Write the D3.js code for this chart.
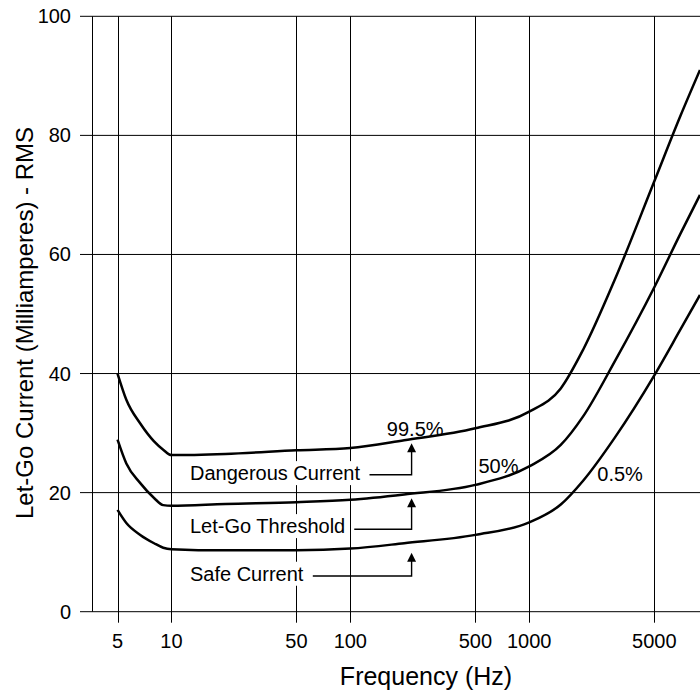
<!DOCTYPE html>
<html>
<head>
<meta charset="utf-8">
<script src="https://cdn.jsdelivr.net/npm/d3@7"></script>
<style>
  body { margin: 0; background: #fff; }
  svg { display: block; font-family: "Liberation Sans", Arial, Helvetica, sans-serif; }
</style>
</head>
<body>
<svg id="chart" width="700" height="690"></svg>
<script>
// frequencies (Hz) shared by the three curves
const freqs = [5, 5.6, 6.7, 8, 9, 10, 20, 50, 100, 200, 500, 1000, 1500, 2000, 3000, 5000, 7000, 9000];
// let-go current (mA rms) per percentile
const dangerous = [40, 35.6, 31.6, 28.6, 27.2, 26.3, 26.5, 27.1, 27.5, 28.8, 30.8, 33.6, 37.5, 44, 55.7, 72.3, 83.3, 91];
const threshold = [28.9, 24.9, 21.6, 19.1, 17.9, 17.8, 18.1, 18.4, 18.8, 19.7, 21.3, 24.4, 28.0, 32.8, 42.0, 54.5, 63.5, 70];
const safe = [17.1, 14.9, 12.9, 11.5, 10.75, 10.5, 10.3, 10.3, 10.6, 11.5, 12.9, 15.0, 18.0, 22.0, 29.2, 39.7, 47.4, 53.2];

const xTicks = [5, 10, 50, 100, 500, 1000, 5000];
const yTicks = [0, 20, 40, 60, 80, 100];

// percentile labels: [text, freq, value]
const pctLabels = [["99.5%", 160, 29.5], ["50%", 520, 23.3], ["0.5%", 2400, 21.9]];
// boxed labels with arrows: [text, label freq, label value, arrow freq, arrow tip value, arrow elbow value]
const notes = [
    ["Dangerous Current", 12.7, 22.1, 220, 28.3, 23.0],
    ["Let-Go Threshold", 12.7, 13.2, 220, 19.05, 13.85],
    ["Safe Current", 12.7, 5.2, 220, 9.9, 6.0]
];

const svg = d3.select('#chart');
const x = d3.scaleLog().domain([3.6, 9000]).range([92, 700]);
const y = d3.scaleLinear().domain([0, 100]).range([611.7, 16.3]);

// grid
const grid = svg.append('g');
grid.selectAll('line.h').data(yTicks).join('line')
    .attr('class', 'h')
    .attr('x1', 80).attr('x2', 700)
    .attr('y1', d => y(d)).attr('y2', d => y(d))
    .attr('stroke', '#000').attr('stroke-width', 1);
grid.selectAll('line.v').data(xTicks).join('line')
    .attr('class', 'v')
    .attr('x1', d => Math.round(x(d)) + 0.5).attr('x2', d => Math.round(x(d)) + 0.5)
    .attr('y1', y(100)).attr('y2', y(0) + 11)
    .attr('stroke', '#000').attr('stroke-width', 1);
grid.append('line')
    .attr('x1', 92.5).attr('x2', 92.5)
    .attr('y1', y(100)).attr('y2', y(0))
    .attr('stroke', '#000');

// tick labels
svg.append('g').selectAll('text').data(yTicks).join('text')
    .attr('x', 71).attr('y', d => y(d)).attr('dy', '0.35em')
    .attr('text-anchor', 'end').attr('font-size', 20)
    .text(d => d);
svg.append('g').selectAll('text').data(xTicks).join('text')
    .attr('x', d => x(d)).attr('y', 648)
    .attr('text-anchor', 'middle').attr('font-size', 20)
    .text(d => d);

// axis titles
svg.append('text')
    .attr('x', 426).attr('y', 685)
    .attr('text-anchor', 'middle').attr('font-size', 25)
    .text('Frequency (Hz)');
svg.append('text')
    .attr('transform', 'translate(33,323) rotate(-90)')
    .attr('text-anchor', 'middle').attr('font-size', 24)
    .text('Let-Go Current (Milliamperes) - RMS');

// boxed labels
const noteG = svg.append('g');
const noteText = noteG.selectAll('g').data(notes).join('g');
noteText.each(function(d) {
    const g = d3.select(this);
    const t = g.append('text')
        .attr('x', x(d[1])).attr('y', y(d[2]))
        .attr('font-size', 20)
        .text(d[0]);
    const b = t.node().getBBox();
    g.insert('rect', 'text')
        .attr('x', b.x - 2).attr('y', b.y - 1)
        .attr('width', b.width + 4).attr('height', b.height + 2)
        .attr('fill', '#fff');
    const xa = x(d[3]);
    const x0 = b.x + b.width + 9;
    g.append('path')
        .attr('d', `M${x0},${y(d[5])}H${xa}V${y(d[4]) + 8}`)
        .attr('fill', 'none').attr('stroke', '#000').attr('stroke-width', 1.4);
    g.append('path')
        .attr('d', `M${xa},${y(d[4])}L${xa - 4.5},${y(d[4]) + 9}L${xa + 4.5},${y(d[4]) + 9}Z`)
        .attr('fill', '#000');
});

// curves
const line = d3.line()
    .x((d, i) => x(freqs[i]))
    .y(d => y(d))
    .curve(d3.curveMonotoneX);
svg.append('g').selectAll('path').data([dangerous, threshold, safe]).join('path')
    .attr('d', d => line(d))
    .attr('fill', 'none')
    .attr('stroke', '#000')
    .attr('stroke-width', 2.5);

// percentile labels
svg.append('g').selectAll('text').data(pctLabels).join('text')
    .attr('x', d => x(d[1])).attr('y', d => y(d[2]))
    .attr('font-size', 20)
    .text(d => d[0]);
</script>
</body>
</html>
